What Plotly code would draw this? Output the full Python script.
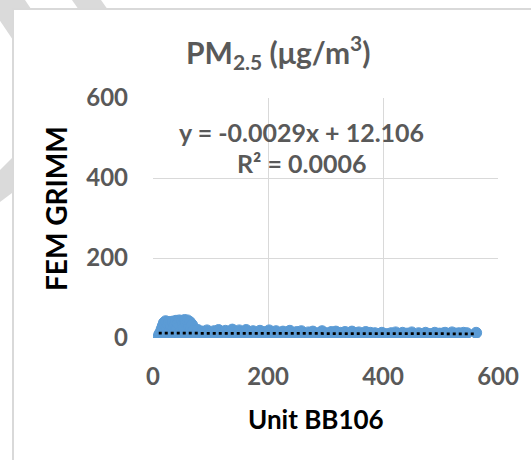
import plotly.graph_objects as go

# Paired readings: Unit BB106 (x) vs FEM GRIMM (y), PM2.5 in ug/m3
bb106 = [
    10, 11, 12, 13, 14, 15, 16, 17, 18, 19, 20, 21, 22, 23, 24, 25, 26, 27, 28, 29,
    30, 31, 32, 33, 34, 35, 36, 37, 38, 39, 40, 41, 42, 43, 44, 45, 46, 47, 48, 49,
    50, 51, 52, 53, 54, 55, 56, 57, 58, 59, 60, 61, 62, 63, 64, 65, 66, 67, 68,
    70, 74, 78, 82, 86, 90, 94, 98, 102, 106, 110, 114, 118, 122, 126, 130, 134, 138,
    142, 146, 150, 154, 158, 162, 166, 170, 174, 178, 182, 186, 190, 194, 198, 202,
    206, 210, 214, 218, 222, 226, 230, 234, 238, 242, 246, 250, 254, 258, 262, 266,
    270, 274, 278, 282, 286, 290, 294, 298, 302, 306, 310, 314, 318, 322, 326, 330,
    334, 338, 342, 346, 350, 354, 358, 362, 366, 370, 374, 378,
    382, 386, 390, 394, 398, 402, 406, 410, 414, 418, 422, 426, 430, 434, 438, 442,
    446, 450, 454, 458, 462, 466, 470, 474, 478, 482, 486, 490, 494, 498, 503, 508,
    514, 520, 526, 532, 540, 546, 562,
]
grimm = [
    4, 9, 2, 14, 6, 22, 3, 30, 11, 38, 5, 18, 42, 8, 26, 3, 35, 12, 40, 6,
    20, 33, 2, 15, 41, 9, 28, 4, 36, 17, 43, 7, 24, 38, 3, 12, 44, 30, 6, 19,
    42, 10, 34, 4, 26, 45, 14, 39, 8, 22, 44, 3, 30, 16, 40, 9, 24, 5, 33,
    18, 5, 20, 8, 16, 3, 19, 10, 6, 17, 4, 20, 12, 7, 18, 3, 15, 21,
    6, 11, 19, 4, 14, 20, 8, 3, 17, 12, 5, 18, 9, 15, 4, 19,
    7, 13, 17, 5, 10, 16, 3, 14, 18, 8, 5, 15, 11, 17, 4, 9,
    14, 6, 16, 10, 3, 13, 17, 7, 12, 4, 15, 9, 16, 5, 13, 8,
    15, 3, 11, 16, 6, 12, 14, 4, 10, 15, 7, 13,
    6, 12, 4, 9, 13, 5, 10, 3, 12, 7, 14, 4, 9, 13, 6, 11,
    4, 14, 8, 5, 12, 9, 4, 13, 7, 10, 5, 13, 8, 11, 11, 13,
    10, 14, 11, 12, 13, 12, 13,
]

# Linear trendline coefficients and fit quality
trend_slope = -0.0029
trend_intercept = 12.106
r_squared = 0.0006

axis_ticks = [0, 200, 400, 600]

# Figure geometry in pixels
W, H = 531, 460
L, R, T, B = 153, 33, 98, 122
PW, PH = W - L - R, H - T - B


def fx(p):
    return (p - L) / PW


def fy(p):
    return (H - B - p) / PH


BLUE = "#5b9bd5"
GRID = "#d9d9d9"
TXT = "#595959"
FONT = "Lato"

fig = go.Figure()
fig.add_trace(go.Scatter(
    x=bb106, y=grimm, mode="markers",
    marker=dict(size=11, color=BLUE, line=dict(color=BLUE, width=1)),
    hoverinfo="skip", showlegend=False,
))

x_lo, x_hi = min(bb106), max(bb106)
fig.add_trace(go.Scatter(
    x=[x_lo, x_hi],
    y=[trend_slope * x_lo + trend_intercept, trend_slope * x_hi + trend_intercept],
    mode="lines", line=dict(color="black", width=2.75, dash="dot"),
    hoverinfo="skip", showlegend=False,
))


def poly(points):
    d = "M " + " L ".join(f"{fx(a):.4f},{fy(b):.4f}" for a, b in points) + " Z"
    return dict(type="path", xref="paper", yref="paper", path=d,
                fillcolor="#dadada", line=dict(width=0), layer="below")


shapes = [
    poly([(-14, 0), (25, 0), (52, 40), (13, 40)]),
    poly([(72, 0), (101, 0), (115, 20), (86, 20)]),
    poly([(0, 170), (20, 150), (20, 187), (0, 202)]),
    # chart area panel
    dict(type="rect", xref="paper", yref="paper",
         x0=fx(13), x1=fx(560), y0=fy(9), y1=fy(480),
         fillcolor="white", line=dict(color=GRID, width=2), layer="below"),
]

eq_text = f"y = {trend_slope:.4f}x + {trend_intercept:.3f}"
r2_text = f"R² = {r_squared:.4f}"


def label(text, px, py, size, color, angle=0):
    return dict(text=text, x=fx(px), y=fy(py), xref="paper", yref="paper",
                xanchor="center", yanchor="middle", showarrow=False,
                textangle=angle,
                font=dict(family=FONT, size=size, color=color, weight="bold"))


annotations = [
    label("<b>PM<sub>2.5</sub> (μg/m<sup>3</sup>)</b>", 278, 52, 30, TXT),
    label(eq_text, 301, 132, 25, TXT),
    label(r2_text, 302, 163, 25, TXT),
    label("Unit BB106", 316, 419, 26, "black"),
    label("FEM GRIMM", 56, 209, 28, "black", -90),
]

axis_common = dict(
    range=[0, 600], tickmode="array", tickvals=axis_ticks,
    ticktext=[str(v) for v in axis_ticks],
    showgrid=True, gridcolor=GRID, gridwidth=1.3,
    zeroline=False, showline=False, ticks="",
    tickfont=dict(family=FONT, size=24, color=TXT, weight="bold"),
    fixedrange=True,
)

fig.update_layout(
    width=W, height=H,
    margin=dict(l=L, r=R, t=T, b=B, pad=0),
    paper_bgcolor="white", plot_bgcolor="rgba(0,0,0,0)",
    xaxis=dict(**axis_common, ticklabelstandoff=22),
    yaxis=dict(**axis_common, ticklabelstandoff=24),
    shapes=shapes, annotations=annotations, showlegend=False,
)

fig.write_html("out.html", config=dict(displayModeBar=False))
